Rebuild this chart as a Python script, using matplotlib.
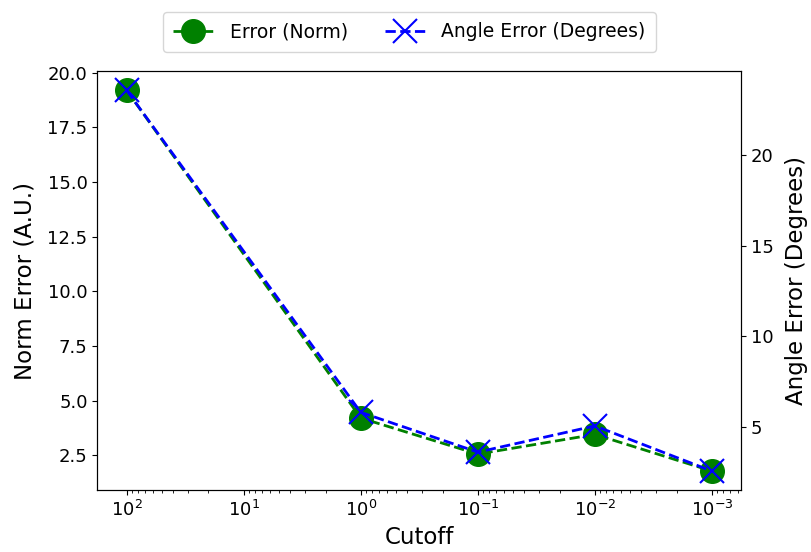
import matplotlib.pyplot as plt
plt.switch_backend('agg')
import numpy as np

cutoff = [1e2, 1e0, 1e-1, 1e-2, 1e-3]
norm_error = [19.2, 4.2, 2.55, 3.45, 1.77]
angle_error = [23.6, 5.8, 3.6, 5.05, 2.55]

fig, ax = plt.subplots(figsize=(8.11, 5.52), dpi=100)
ax2 = ax.twinx()

l1, = ax.plot(cutoff, norm_error, 'o--', color='green', markersize=17,
              linewidth=2, label='Error (Norm)')
l2, = ax2.plot(cutoff, angle_error, 'x--', color='blue', markersize=17,
               markeredgewidth=1.5, linewidth=2, label='Angle Error (Degrees)')

ax.set_xscale('log')
ax.invert_xaxis()
ax.set_xlabel('Cutoff', fontsize=16.5)
ax.set_ylabel('Norm Error (A.U.)', fontsize=16.5, labelpad=8)
ax2.set_ylabel('Angle Error (Degrees)', fontsize=16.5, labelpad=8)
ax.tick_params(labelsize=13)
ax2.tick_params(labelsize=13)
ax.set_yticks([2.5, 5.0, 7.5, 10.0, 12.5, 15.0, 17.5, 20.0])
ax2.set_yticks([5, 10, 15, 20])

fig.legend([l1, l2], [l1.get_label(), l2.get_label()], loc='upper center',
           bbox_to_anchor=(0.505, 0.995), ncol=2, fontsize=13.5,
           handlelength=2.1, handletextpad=0.9, columnspacing=2.0,
           borderpad=0.55)

fig.subplots_adjust(left=0.12, right=0.914, top=0.871, bottom=0.112)
fig.savefig('out.png')
